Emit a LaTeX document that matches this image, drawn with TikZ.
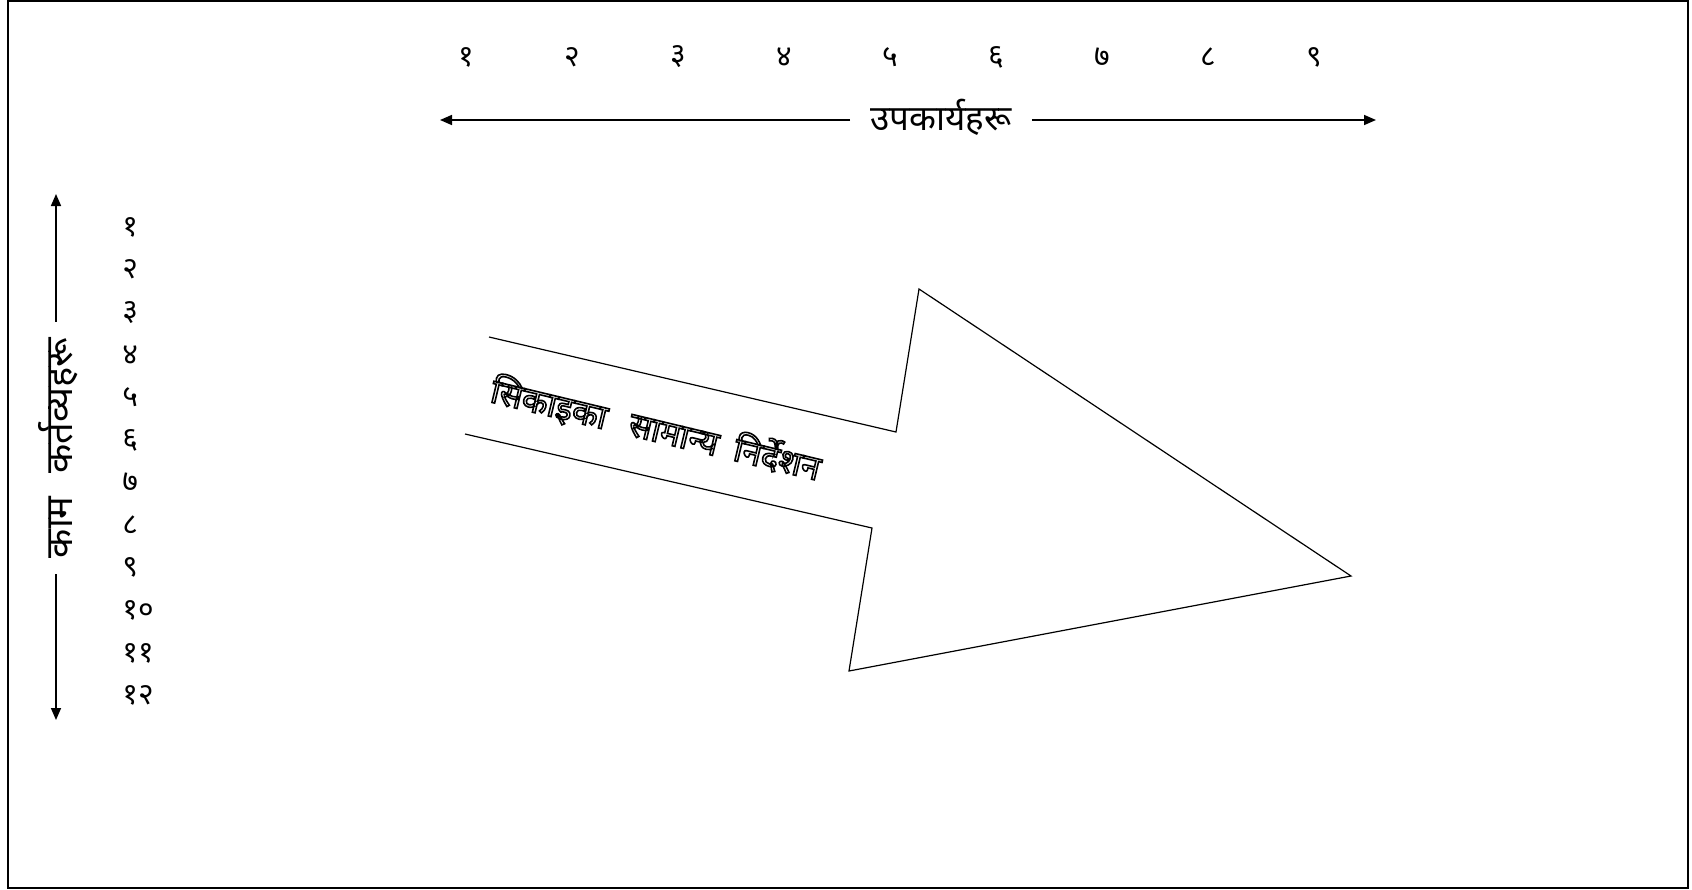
\documentclass[tikz,border=0pt]{standalone}
\usepackage{fontspec}
\setmainfont{Noto Sans}[Script=Devanagari]
\newfontfamily\dev[Script=Devanagari]{Noto Sans}
\newcommand{\outlinetext}[1]{\special{pdf:literal direct 1 Tr 0.8 w}#1\special{pdf:literal direct 0 Tr}}
\usetikzlibrary{arrows.meta}
\tikzset{
  px/.style={x=0.5pt,y=-0.5pt},
  num/.style={font=\dev\fontsize{15}{17}\selectfont, inner sep=0pt},
  lab/.style={font=\dev\fontsize{17.5}{20}\selectfont, inner sep=0pt},
  axis/.style={line width=0.8pt,-{Triangle[length=6pt,width=5pt]}},
  bigarrow/.style={line width=0.6pt, line join=miter},
}
\begin{document}
\begin{tikzpicture}[px]
\useasboundingbox (0,0) rectangle (1692,889);
\draw[line width=1pt] (8,1) rectangle (1688,888);
% top numbers
\foreach \n [count=\i from 0] in {१,२,३,४,५,६,७,८,९}{
  \node[num] (t\i) at ({466+\i*106},57) {\n};
}
% top axis
\node[lab] (tl) at (941,117) {उपकार्यहरू};
\coordinate (tL) at (440,120);
\coordinate (tR) at (1376,120);
\draw[axis] ([xshift=-10pt]tl.west |- tL) -- (tL);
\draw[axis] ([xshift=10pt]tl.east |- tR) -- (tR);
% left axis
\node[lab, font=\dev\fontsize{19}{22}\selectfont, rotate=90] (ll) at (58,448) {काम\hspace{0.6em}कर्तव्यहरू};
\coordinate (lT) at (56,194);
\coordinate (lB) at (56,720);
\draw[axis] ([yshift=8pt]ll.east -| lT) -- (lT);
\draw[axis] ([yshift=-8pt]ll.west -| lB) -- (lB);
% left numbers
\foreach \n [count=\i from 0] in {१,२,३,४,५,६,७,८,९,१०,११,१२}{
  \node[num, anchor=west] (v\i) at (122,{227+\i*42.6}) {\n};
}
% big arrow
\coordinate (a1) at (489,337);
\coordinate (a2) at (896,432);
\coordinate (a3) at (919,289);
\coordinate (a4) at (1351,576);
\coordinate (a5) at (849,671);
\coordinate (a6) at (872,528);
\coordinate (a7) at (465,434);
\draw[bigarrow] (a1) -- (a2) -- (a3) -- (a4) -- (a5) -- (a6) -- (a7);
\node[font=\dev\fontsize{17}{20}\selectfont, rotate=-13.5, inner sep=0pt] (title) at (656,429)
  {\outlinetext{सिकाइका\hspace{0.7em}सामान्य\hspace{0.5em}निर्देशन}};
\end{tikzpicture}
\end{document}
